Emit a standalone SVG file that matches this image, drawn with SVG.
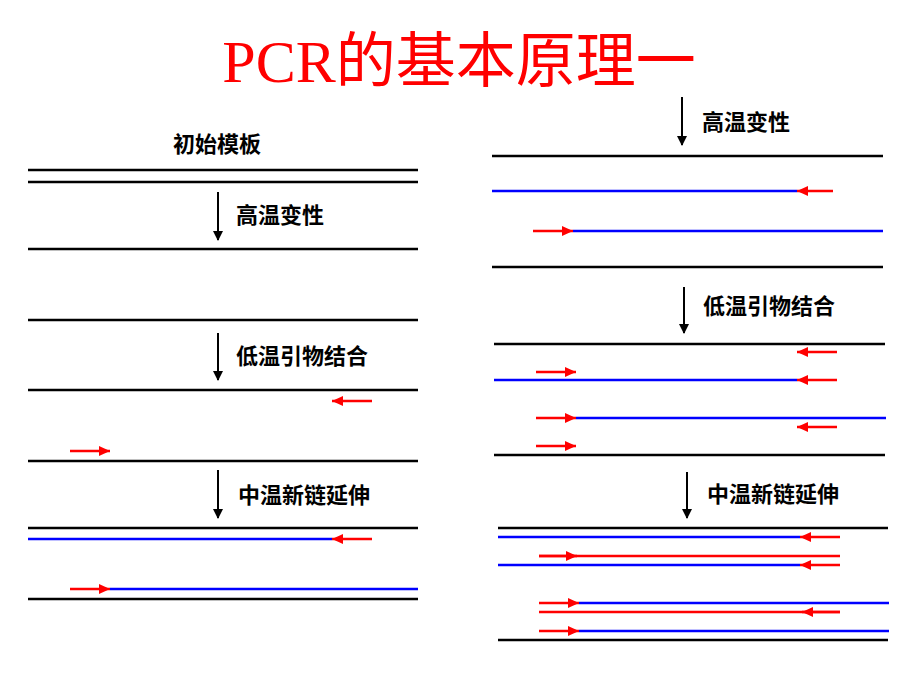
<svg xmlns="http://www.w3.org/2000/svg" width="920" height="690" viewBox="0 0 920 690">
<defs>
<marker id="ar" markerUnits="userSpaceOnUse" markerWidth="12" markerHeight="10" refX="11" refY="5" orient="auto"><path d="M0,0 L11,5 L0,10 Z" fill="#f00"/></marker>
<marker id="ak" markerUnits="userSpaceOnUse" markerWidth="10" markerHeight="14" refX="9" refY="5" orient="auto"><path d="M0,0 L10,5 L0,10 Z" fill="#000"/></marker>
</defs>
<style>
.k{stroke:#000;stroke-width:2.5}
.b{stroke:#00f;stroke-width:2.5}
.r{stroke:#f00;stroke-width:2.5;fill:none}
.p{stroke:#f00;stroke-width:2.5;fill:none;marker-end:url(#ar)}
.d{stroke:#000;stroke-width:2;marker-end:url(#ak)}
.t{font-family:"Noto Sans CJK SC",sans-serif;font-weight:bold;font-size:22px;fill:#000}
</style>
<rect width="920" height="690" fill="#fff"/>
<text x="459" y="82" text-anchor="middle" font-family="Liberation Serif,'Noto Sans CJK SC',serif" font-size="60" fill="#f00">PCR的基本原理一</text>
<g id="left">
<text class="t" x="173" y="152">初始模板</text>
<line class="k" x1="28" y1="170" x2="418" y2="170"/>
<line class="k" x1="28" y1="182" x2="418" y2="182"/>
<line class="d" x1="218" y1="192" x2="218" y2="240"/>
<text class="t" x="236" y="223">高温变性</text>
<line class="k" x1="28" y1="249" x2="418" y2="249"/>
<line class="k" x1="28" y1="320" x2="418" y2="320"/>
<line class="d" x1="218" y1="333" x2="218" y2="380"/>
<text class="t" x="236" y="364">低温引物结合</text>
<line class="k" x1="28" y1="390" x2="418" y2="390"/>
<path class="p" d="M372,401 H332"/>
<path class="p" d="M70,451 H110"/>
<line class="k" x1="28" y1="461" x2="418" y2="461"/>
<line class="d" x1="218" y1="470" x2="218" y2="518"/>
<text class="t" x="238" y="503">中温新链延伸</text>
<line class="k" x1="28" y1="528" x2="418" y2="528"/>
<line class="b" x1="28" y1="539" x2="332" y2="539"/>
<path class="p" d="M372,539 H332"/>
<path class="p" d="M70,589 H110"/>
<line class="b" x1="110" y1="589" x2="418" y2="589"/>
<line class="k" x1="28" y1="599" x2="418" y2="599"/>
</g>
<g id="right">
<line class="d" x1="682" y1="97" x2="682" y2="145"/>
<text class="t" x="702" y="130">高温变性</text>
<line class="k" x1="492" y1="156" x2="883" y2="156"/>
<line class="b" x1="492" y1="191" x2="797" y2="191"/>
<path class="p" d="M833,191 H797"/>
<path class="p" d="M533,231 H573"/>
<line class="b" x1="573" y1="231" x2="883" y2="231"/>
<line class="k" x1="492" y1="267" x2="883" y2="267"/>
<line class="d" x1="684" y1="287" x2="684" y2="333"/>
<text class="t" x="703" y="314">低温引物结合</text>
<line class="k" x1="494" y1="344" x2="885" y2="344"/>
<path class="p" d="M837,352 H797"/>
<path class="p" d="M536,372 H576"/>
<line class="b" x1="494" y1="380" x2="797" y2="380"/>
<path class="p" d="M837,380 H797"/>
<path class="p" d="M536,418 H576"/>
<line class="b" x1="576" y1="418" x2="886" y2="418"/>
<path class="p" d="M837,427 H797"/>
<path class="p" d="M536,446 H576"/>
<line class="k" x1="494" y1="455" x2="885" y2="455"/>
<line class="d" x1="687" y1="472" x2="687" y2="518"/>
<text class="t" x="707" y="502">中温新链延伸</text>
<line class="k" x1="498" y1="528" x2="888" y2="528"/>
<line class="b" x1="498" y1="537" x2="800" y2="537"/>
<path class="p" d="M840,537 H800"/>
<line class="r" x1="539" y1="556" x2="840" y2="556"/>
<path class="p" d="M539,556 H577"/>
<line class="b" x1="498" y1="565" x2="800" y2="565"/>
<path class="p" d="M840,565 H800"/>
<path class="p" d="M539,603 H579"/>
<line class="b" x1="579" y1="603" x2="889" y2="603"/>
<line class="r" x1="539" y1="612" x2="840" y2="612"/>
<path class="p" d="M840,612 H802"/>
<path class="p" d="M539,631 H579"/>
<line class="b" x1="579" y1="631" x2="889" y2="631"/>
<line class="k" x1="498" y1="640" x2="888" y2="640"/>
</g>
</svg>
